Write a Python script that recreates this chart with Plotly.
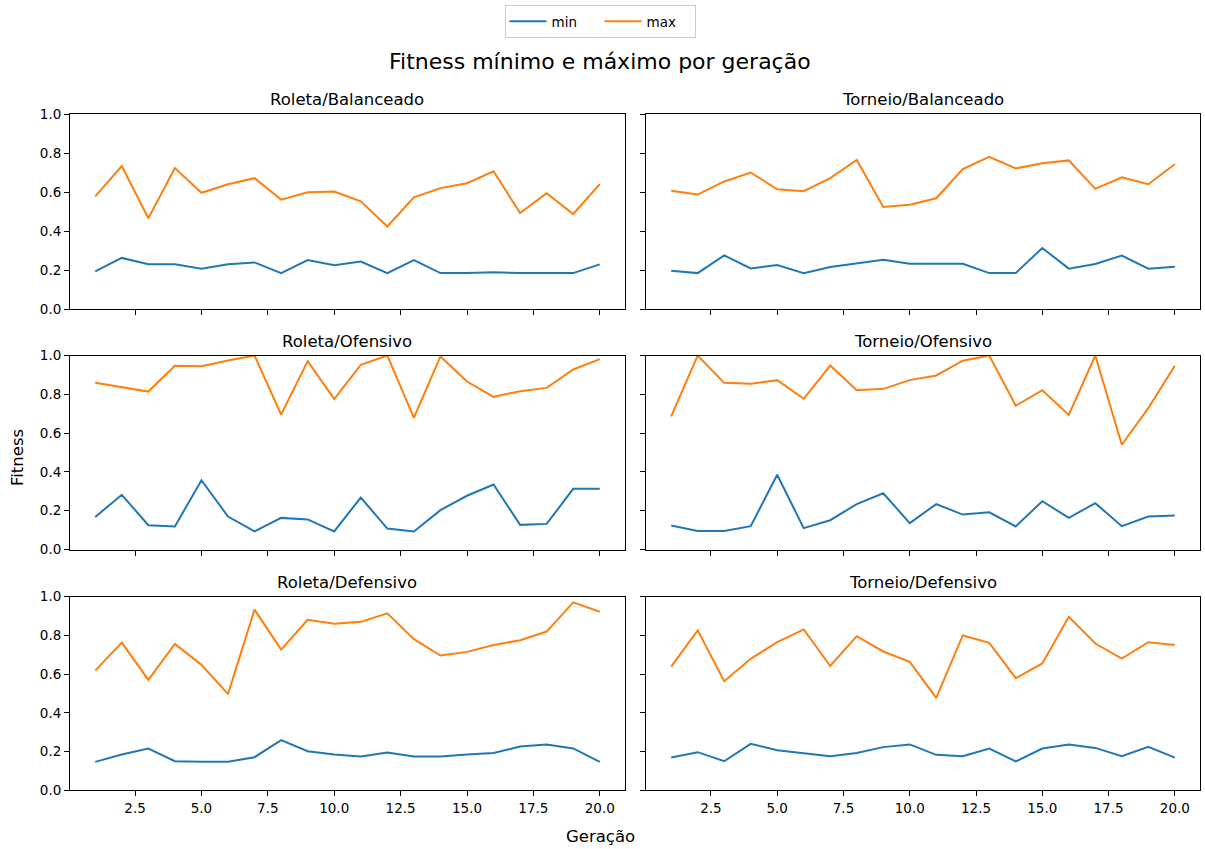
import plotly.graph_objects as go
from plotly.subplots import make_subplots

# Generations 1..20
geracoes = list(range(1, 21))

# Minimum / maximum fitness per generation for each selection/strategy pair
roleta_balanceado_min = [0.193, 0.262, 0.229, 0.229, 0.207, 0.229, 0.239, 0.184, 0.251, 0.225,
                         0.243, 0.184, 0.251, 0.184, 0.184, 0.189, 0.184, 0.184, 0.184, 0.229]
roleta_balanceado_max = [0.578, 0.733, 0.465, 0.723, 0.596, 0.640, 0.671, 0.561, 0.599, 0.602,
                         0.552, 0.423, 0.573, 0.620, 0.645, 0.706, 0.492, 0.594, 0.487, 0.640]

torneio_balanceado_min = [0.196, 0.184, 0.275, 0.208, 0.225, 0.184, 0.215, 0.234, 0.253, 0.232,
                          0.231, 0.232, 0.184, 0.184, 0.313, 0.207, 0.231, 0.274, 0.207, 0.217]
torneio_balanceado_max = [0.606, 0.587, 0.654, 0.700, 0.614, 0.604, 0.671, 0.764, 0.523, 0.535,
                          0.568, 0.718, 0.780, 0.721, 0.747, 0.762, 0.616, 0.675, 0.640, 0.742]

roleta_ofensivo_min = [0.168, 0.282, 0.125, 0.119, 0.357, 0.170, 0.093, 0.163, 0.155, 0.093,
                       0.268, 0.108, 0.093, 0.203, 0.277, 0.335, 0.127, 0.132, 0.313, 0.313]
roleta_ofensivo_max = [0.859, 0.837, 0.814, 0.947, 0.945, 0.974, 1.000, 0.696, 0.971, 0.775,
                       0.952, 1.000, 0.679, 0.995, 0.866, 0.787, 0.816, 0.833, 0.928, 0.981]

torneio_ofensivo_min = [0.124, 0.096, 0.096, 0.120, 0.385, 0.110, 0.151, 0.234, 0.290, 0.136,
                        0.234, 0.180, 0.192, 0.119, 0.249, 0.163, 0.239, 0.120, 0.170, 0.175]
torneio_ofensivo_max = [0.686, 1.000, 0.859, 0.854, 0.873, 0.777, 0.948, 0.821, 0.828, 0.873,
                        0.897, 0.973, 1.000, 0.741, 0.821, 0.694, 1.000, 0.540, 0.729, 0.947]

roleta_defensivo_min = [0.147, 0.185, 0.216, 0.150, 0.147, 0.147, 0.171, 0.259, 0.202, 0.185,
                        0.174, 0.195, 0.174, 0.174, 0.185, 0.193, 0.226, 0.237, 0.216, 0.147]
roleta_defensivo_max = [0.618, 0.763, 0.570, 0.756, 0.648, 0.497, 0.933, 0.727, 0.881, 0.860,
                        0.870, 0.914, 0.781, 0.696, 0.715, 0.751, 0.775, 0.820, 0.971, 0.922]

torneio_defensivo_min = [0.169, 0.197, 0.150, 0.240, 0.207, 0.193, 0.176, 0.193, 0.223, 0.237,
                         0.183, 0.176, 0.216, 0.149, 0.216, 0.237, 0.219, 0.176, 0.225, 0.169]
torneio_defensivo_max = [0.639, 0.826, 0.563, 0.679, 0.765, 0.831, 0.642, 0.796, 0.717, 0.663,
                         0.477, 0.800, 0.762, 0.579, 0.655, 0.896, 0.758, 0.680, 0.765, 0.751]

titulos = ["Roleta/Balanceado", "Torneio/Balanceado",
           "Roleta/Ofensivo", "Torneio/Ofensivo",
           "Roleta/Defensivo", "Torneio/Defensivo"]
series = [
    (roleta_balanceado_min, roleta_balanceado_max),
    (torneio_balanceado_min, torneio_balanceado_max),
    (roleta_ofensivo_min, roleta_ofensivo_max),
    (torneio_ofensivo_min, torneio_ofensivo_max),
    (roleta_defensivo_min, roleta_defensivo_max),
    (torneio_defensivo_min, torneio_defensivo_max),
]
y_ticks = [0.0, 0.2, 0.4, 0.6, 0.8, 1.0]
x_ticks = [2.5, 5.0, 7.5, 10.0, 12.5, 15.0, 17.5, 20.0]

W, H = 1205, 849
FONT = "DejaVu Sans"
AZUL, LARANJA = "#1f77b4", "#ff7f0e"

# panel boxes in pixels: columns (left, right), rows (top, bottom)
cols_px = [(70, 625), (646, 1200)]
rows_px = [(114, 309), (355.5, 549.5), (596.7, 790.3)]


def px_y(y):
    """Convert a pixel row (from the top) to paper coordinates."""
    return 1 - y / H


fig = make_subplots(rows=3, cols=2)

for i, (titulo, (ymin, ymax)) in enumerate(zip(titulos, series)):
    r, c = i // 2 + 1, i % 2 + 1
    fig.add_trace(go.Scatter(x=geracoes, y=ymin, mode="lines", name="min",
                             line=dict(color=AZUL, width=2), showlegend=(i == 0),
                             legendgroup="min"), row=r, col=c)
    fig.add_trace(go.Scatter(x=geracoes, y=ymax, mode="lines", name="max",
                             line=dict(color=LARANJA, width=2), showlegend=(i == 0),
                             legendgroup="max"), row=r, col=c)

    left, right = cols_px[c - 1]
    top, bottom = rows_px[r - 1]
    fig.update_xaxes(domain=[left / W, right / W], range=[0.05, 20.95], tickvals=x_ticks,
                     ticktext=[f"{v:.1f}" for v in x_ticks],
                     showticklabels=(r == 3), ticks="outside", ticklen=5, tickwidth=1,
                     tickcolor="#000", showline=True, linecolor="#000", linewidth=1,
                     mirror=True, showgrid=False, zeroline=False,
                     tickfont=dict(family=FONT, size=13.5, color="#000"),
                     row=r, col=c)
    fig.update_yaxes(domain=[px_y(bottom), px_y(top)], range=[0, 1], tickvals=y_ticks,
                     ticktext=[f"{v:.1f}" for v in y_ticks],
                     showticklabels=(c == 1), ticks="outside", ticklen=5, tickwidth=1,
                     tickcolor="#000", showline=True, linecolor="#000", linewidth=1,
                     mirror=True, showgrid=False, zeroline=False,
                     tickfont=dict(family=FONT, size=13.5, color="#000"),
                     row=r, col=c)
    fig.add_annotation(text=titulo, x=(left + right) / 2 / W, y=px_y(top - 14),
                       xref="paper", yref="paper", xanchor="center", yanchor="middle",
                       showarrow=False, font=dict(family=FONT, size=16.5, color="#000"))

fig.add_annotation(text="Fitness mínimo e máximo por geração", x=600 / W, y=px_y(62),
                   xref="paper", yref="paper", xanchor="center", yanchor="middle",
                   showarrow=False, font=dict(family=FONT, size=22, color="#000"))
fig.add_annotation(text="Geração", x=600 / W, y=px_y(836),
                   xref="paper", yref="paper", xanchor="center", yanchor="middle",
                   showarrow=False, font=dict(family=FONT, size=16.5, color="#000"))
fig.add_annotation(text="Fitness", x=18 / W, y=px_y(458), textangle=-90,
                   xref="paper", yref="paper", xanchor="center", yanchor="middle",
                   showarrow=False, font=dict(family=FONT, size=16.5, color="#000"))

fig.update_layout(
    width=W, height=H, autosize=False,
    margin=dict(l=0, r=0, t=0, b=0, pad=0, autoexpand=False),
    paper_bgcolor="white", plot_bgcolor="white",
    font=dict(family=FONT, color="#000"),
    legend=dict(orientation="h", x=600 / W, xanchor="center", y=px_y(5), yanchor="top",
                bordercolor="#cccccc", borderwidth=1, bgcolor="white",
                font=dict(family=FONT, size=13.5, color="#000"),
                entrywidth=43, entrywidthmode="pixels", itemwidth=37),
)

fig.write_html("out.html")
